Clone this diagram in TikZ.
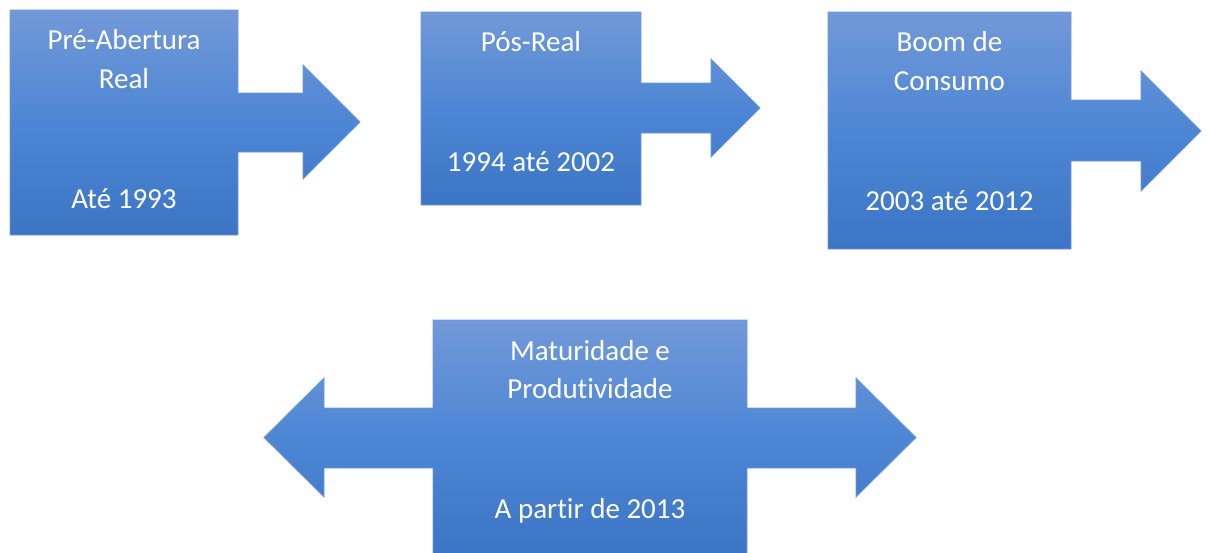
\documentclass[tikz,border=0pt]{standalone}
\usepackage{fontspec}
\setmainfont{Carlito}[Ligatures={NoCommon}]
\usepackage{tikz}

\definecolor{azultopo}{HTML}{7299D8}
\definecolor{azulmeio}{HTML}{4D86D4}
\definecolor{azulbase}{HTML}{3D75C6}
\definecolor{azulborda}{HTML}{6F98D8}

\tikzset{
  seta/.style={draw=azulborda, line width=0.8pt, top color=azultopo,
    bottom color=azulbase, middle color=azulmeio, shading angle=0},
  rotulo/.style={text=white, anchor=base, inner sep=0pt,
    font=\fontsize{29}{34}\selectfont}
}

\begin{document}
\begin{tikzpicture}[x=1pt,y=-1pt]
\useasboundingbox (0,0) rectangle (1208,552);
\begin{scope}
\clip (0,0) rectangle (1208,552);
% primeira fase
\draw[seta] (10,10) -- (238,10) -- (238,93) -- (303,93) -- (303,65)
  -- (360,122) -- (303,179) -- (303,152) -- (238,152) -- (238,235)
  -- (10,235) -- cycle;
% segunda fase
\draw[seta] (421,12) -- (641,12) -- (641,83) -- (711,83) -- (711,59)
  -- (760,108) -- (711,157) -- (711,133) -- (641,133) -- (641,205)
  -- (421,205) -- cycle;
% terceira fase
\draw[seta] (828,12) -- (1071,12) -- (1071,100) -- (1141,100) -- (1141,71)
  -- (1201,131) -- (1141,191) -- (1141,161) -- (1071,161) -- (1071,249)
  -- (828,249) -- cycle;
% quarta fase
\draw[seta] (433,320) -- (747,320) -- (747,408) -- (856,408) -- (856,378)
  -- (916,437.5) -- (856,497) -- (856,468) -- (747,468) -- (747,555)
  -- (433,555) -- (433,468) -- (324,468) -- (324,497) -- (264,437.5)
  -- (324,378) -- (324,408) -- (433,408) -- cycle;
\end{scope}

\node[rotulo] (pre1) at (124,49) {Pré-Abertura};
\node[rotulo] (pre2) at (124,88) {Real};
\node[rotulo] (pred) at (124,208) {Até 1993};

\node[rotulo] (pos1) at (531,51.5) {Pós-Real};
\node[rotulo] (posd) at (531,171) {1994 até 2002};

\node[rotulo] (boom1) at (949.5,51.5) {Boom de};
\node[rotulo] (boom2) at (949.5,90.5) {Consumo};
\node[rotulo] (boomd) at (949.5,210) {2003 até 2012};

\node[rotulo] (mat1) at (590,360) {Maturidade e};
\node[rotulo] (mat2) at (590,398) {Produtividade};
\node[rotulo] (matd) at (590,518) {A partir de 2013};

\end{tikzpicture}
\end{document}
